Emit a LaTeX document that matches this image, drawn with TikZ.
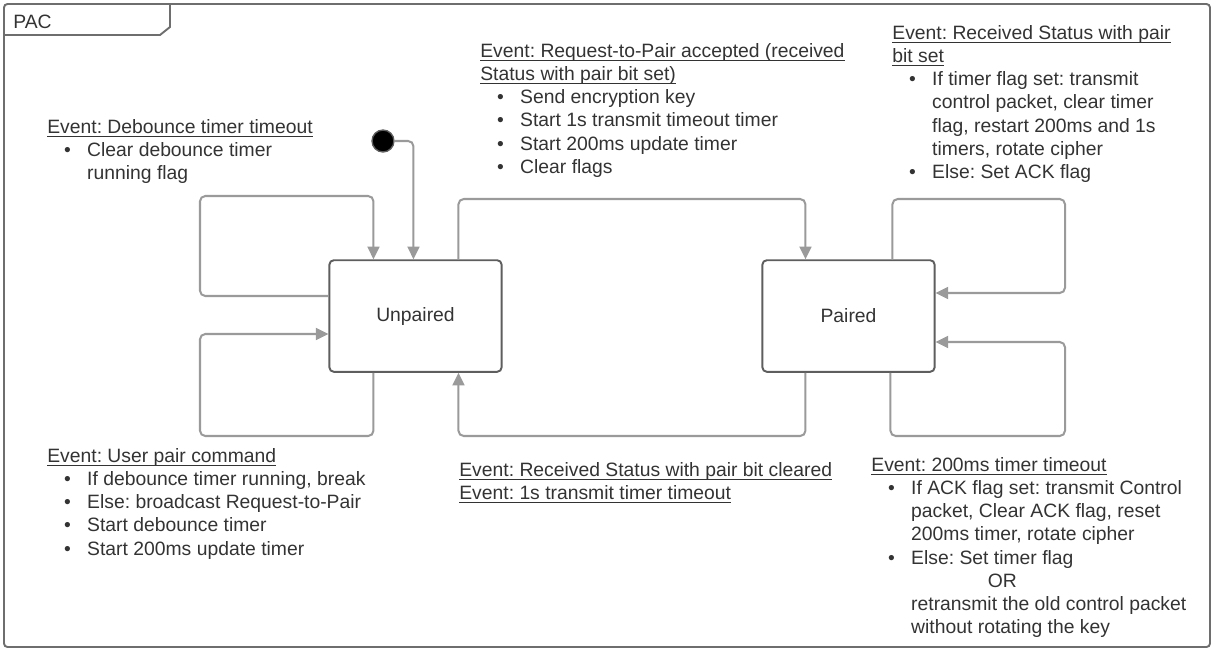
\documentclass[tikz,border=0pt]{standalone}
\usepackage{fontspec}
\setmainfont{Liberation Sans}
\usepackage{xcolor}
\usepackage{tikz}
\usetikzlibrary{arrows.meta,calc}
\definecolor{cLine}{HTML}{9A9A9A}
\definecolor{cBox}{HTML}{5E5E5E}
\definecolor{cFrame}{HTML}{6E6E6E}
\definecolor{cText}{HTML}{333333}
\frenchspacing
\newsavebox{\evtbox}
\newcommand{\evt}[1]{\sbox{\evtbox}{#1}\rlap{\rule[-2pt]{\wd\evtbox}{0.6pt}}\usebox{\evtbox}}
\newcommand{\itm}[1]{\hspace*{9.6pt}\makebox[13.1pt][l]{\textbullet}#1}
\newcommand{\cnt}[1]{\hspace*{22.7pt}#1}

\begin{document}
\begin{tikzpicture}[x=0.02cm,y=-0.02cm,
  state/.style={draw=cBox,line width=1.1pt,rounded corners=2.5pt,minimum width=98pt,
    minimum height=63.5pt,font=\fontsize{11}{13.2}\selectfont,text=cText},
  note/.style={anchor=north west,inner sep=0pt,align=left,
    font=\fontsize{11}{13.2}\selectfont,text=cText},
  tr/.style={draw=cLine,line width=1.15pt,rounded corners=3pt,
    -{Triangle[length=7.2pt,width=6.8pt]}},
  frame/.style={draw=cFrame,line width=1.1pt},
  init/.style={circle,fill=black,draw=cBox,line width=0.8pt,minimum size=12.5pt,inner sep=0pt}]

  \useasboundingbox (0,0) rectangle (1214,650);

  % outer frame with name tab
  \draw[frame,rounded corners=2pt] (4,4) rectangle (1210,647);
  \draw[frame] (4,35) -- (160,35) -- (170,27) -- (170,4);
  \node[note] (tPac) at (13,15) {PAC};

  % states
  \foreach \n/\x/\t in {unp/415.5/Unpaired, pai/848.5/Paired}
    {\node[state] (\n) at (\x,316) {\t};}
  \node[init] (ini) at (383,141) {};

  % transitions
  \draw[tr] (ini) -| ($(unp.north west)+(85,0)$);
  \draw[tr] ($(unp.west)+(0,-20)$) -| (200,196) -| ($(unp.north west)+(45,0)$);
  \draw[tr] ($(unp.south west)+(45,0)$) |- (200,436) |- ($(unp.west)+(0,18)$);
  \draw[tr] ($(unp.north west)+(130,0)$) |- (632,199) -| ($(pai.north west)+(44,0)$);
  \draw[tr] ($(pai.south west)+(44,0)$) |- (632,436) -| ($(unp.south west)+(130,0)$);
  \draw[tr] ($(pai.north west)+(131,0)$) |- (1065,199) |- ($(pai.east)+(0,-23)$);
  \draw[tr] ($(pai.south west)+(129,0)$) |- (1065,436) |- ($(pai.east)+(0,26)$);

  % event texts
  \node[note] (nDeb) at (47,119) {\evt{Event: Debounce timer timeout}\\
    \itm{Clear debounce timer}\\ \cnt{running flag}};
  \node[note] (nReq) at (480,43) {\evt{Event: Request-to-Pair accepted (received}\\
    \evt{Status with pair bit set)}\\ \itm{Send encryption key}\\
    \itm{Start 1s transmit timeout timer}\\ \itm{Start 200ms update timer}\\
    \itm{Clear flags}};
  \node[note] (nAck) at (892,25) {\evt{Event: Received Status with pair}\\
    \evt{bit set}\\ \itm{If timer flag set: transmit}\\
    \cnt{control packet, clear timer}\\ \cnt{flag, restart 200ms and 1s}\\
    \cnt{timers, rotate cipher}\\ \itm{Else: Set ACK flag}};
  \node[note] (nUsr) at (47,448) {\evt{Event: User pair command}\\
    \itm{If debounce timer running, break}\\ \itm{Else: broadcast Request-to-Pair}\\
    \itm{Start debounce timer}\\ \itm{Start 200ms update timer}};
  \node[note] (nClr) at (459,462) {\evt{Event: Received Status with pair bit cleared}\\
    \evt{Event: 1s transmit timer timeout}};
  \node[note] (nTmo) at (871,457) {\evt{Event: 200ms timer timeout}\\
    \itm{If ACK flag set: transmit Control}\\ \cnt{packet, Clear ACK flag, reset}\\
    \cnt{200ms timer, rotate cipher}\\ \itm{Else: Set timer flag}\\
    \hspace*{66.3pt}OR\\ \cnt{retransmit the old control packet}\\
    \cnt{without rotating the key}};
\end{tikzpicture}
\end{document}
